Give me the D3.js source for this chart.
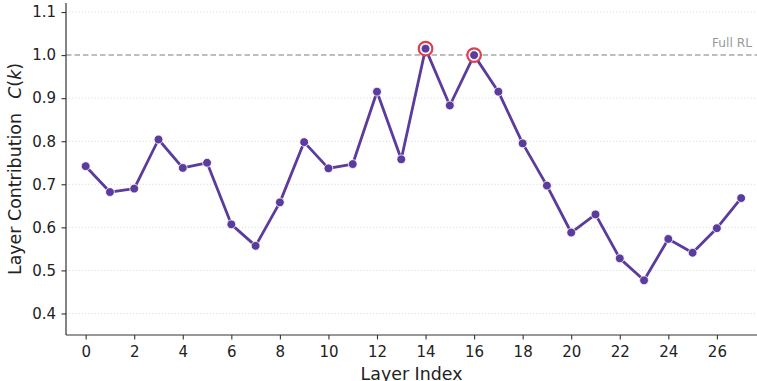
<!DOCTYPE html>
<html>
<head>
<meta charset="utf-8">
<script src="https://cdn.jsdelivr.net/npm/d3@7"></script>
<style>
  html, body { margin: 0; padding: 0; background: #fff; }
  svg { display: block; font-family: "DejaVu Sans", sans-serif; }
</style>
</head>
<body>
<svg id="chart" width="757" height="381"></svg>
<script>
// Per-layer contribution C(k)
const layers = d3.range(0, 28);
const contribution = [
  0.742, 0.682, 0.690, 0.804, 0.738, 0.750, 0.607, 0.557, 0.658, 0.798,
  0.737, 0.747, 0.915, 0.758, 1.015, 0.883, 1.000, 0.915, 0.795, 0.697,
  0.588, 0.630, 0.528, 0.477, 0.573, 0.541, 0.598, 0.668
];
const highlighted = [14, 16];
const xTicks = d3.range(0, 27, 2);
const yTicks = [0.4, 0.5, 0.6, 0.7, 0.8, 0.9, 1.0, 1.1];
const referenceLevel = 1.0;
const referenceLabel = "Full RL";

const svg = d3.select("#chart");
const plotLeft = 66, plotRight = 780, plotTop = 3, plotBottom = 335;

const x = d3.scaleLinear().domain([-0.81, 28.6]).range([plotLeft, plotRight]);
const y = d3.scaleLinear().domain([0.35, 1.121]).range([plotBottom, plotTop]);

const purple = "#5b3b9c";
const red = "#d9414f";

// horizontal dotted grid
svg.append("g").selectAll("line").data(yTicks.filter(t => t !== referenceLevel)).join("line")
  .attr("x1", plotLeft).attr("x2", plotRight)
  .attr("y1", d => y(d)).attr("y2", d => y(d))
  .attr("stroke", "#d4d4d4").attr("stroke-width", 0.9)
  .attr("stroke-dasharray", "1,2.2");

// reference level
svg.append("line")
  .attr("x1", plotLeft).attr("x2", plotRight)
  .attr("y1", y(referenceLevel)).attr("y2", y(referenceLevel))
  .attr("stroke", "#a9a9a9").attr("stroke-width", 1.5)
  .attr("stroke-dasharray", "5.5,3");
svg.append("text")
  .attr("x", 752).attr("y", y(referenceLevel) - 8)
  .attr("text-anchor", "end")
  .attr("font-size", 12.2).attr("fill", "#999")
  .text(referenceLabel);

// axes
const xAxis = svg.append("g").attr("transform", `translate(0,${plotBottom})`)
  .call(d3.axisBottom(x).tickValues(xTicks).tickSize(4.5).tickPadding(7).tickFormat(d3.format("d")));
const yAxis = svg.append("g").attr("transform", `translate(${plotLeft},0)`)
  .call(d3.axisLeft(y).tickValues(yTicks).tickSize(4.5).tickPadding(5.5).tickFormat(d3.format(".1f")));
[xAxis, yAxis].forEach(g => {
  g.select(".domain").attr("stroke", "#333").attr("stroke-width", 1.2);
  g.selectAll(".tick line").attr("stroke", "#333").attr("stroke-width", 1.1);
  g.selectAll(".tick text").attr("font-size", 15).attr("fill", "#222")
    .attr("font-family", "DejaVu Sans, sans-serif");
});
yAxis.select(".domain").attr("d", `M-0,${plotTop}V${plotBottom}`);
xAxis.select(".domain").attr("d", `M${plotLeft},0H${plotRight}`);

// line
const pts = layers.map((k, i) => ({ k, v: contribution[i] }));
svg.append("path").datum(pts)
  .attr("fill", "none").attr("stroke", purple).attr("stroke-width", 2.8)
  .attr("stroke-linejoin", "round")
  .attr("d", d3.line().x(d => x(d.k)).y(d => y(d.v)));

// highlight rings
svg.append("g").selectAll("circle").data(pts.filter(d => highlighted.includes(d.k))).join("circle")
  .attr("cx", d => x(d.k)).attr("cy", d => y(d.v)).attr("r", 6.8)
  .attr("fill", "#fff").attr("stroke", red).attr("stroke-width", 2.2);

// markers
svg.append("g").selectAll("circle").data(pts).join("circle")
  .attr("cx", d => x(d.k)).attr("cy", d => y(d.v)).attr("r", 4.4)
  .attr("fill", purple).attr("stroke", "#fff").attr("stroke-width", 0.8);

// axis titles
svg.append("text")
  .attr("x", (plotLeft + 757) / 2).attr("y", 380)
  .attr("text-anchor", "middle").attr("font-size", 17.4).attr("fill", "#222")
  .text("Layer Index");

const yTitle = svg.append("text")
  .attr("transform", `translate(21,${(plotTop + plotBottom) / 2}) rotate(-90)`)
  .attr("text-anchor", "middle").attr("font-size", 17.4).attr("fill", "#222");
yTitle.append("tspan").text("Layer Contribution\u2002 ");
yTitle.append("tspan").attr("font-style", "italic").text("C");
yTitle.append("tspan").text("(");
yTitle.append("tspan").attr("font-style", "italic").text("k");
yTitle.append("tspan").text(")");
</script>
</body>
</html>
